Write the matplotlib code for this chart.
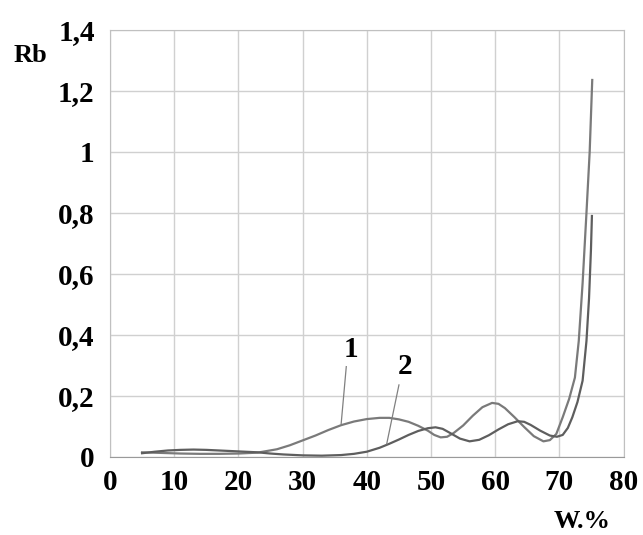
import matplotlib
matplotlib.use('Agg')
from matplotlib import pyplot as plt
from matplotlib.ticker import FixedLocator, FixedFormatter

# Curve 1 (W, Rb)
w1 = [5, 8, 11, 14, 17, 20, 23, 26, 28, 30, 32, 34, 36, 38, 40, 42, 43.5,
      45, 46.5, 48, 49.5, 50.5, 51.5, 52.5, 53.5, 55, 56.5, 58, 59.5, 60.5,
      61.5, 63, 64.5, 66, 67.5, 68.5, 69.5, 70.5, 71.5, 72.4, 73, 73.6,
      74.2, 74.7, 75.1]
rb1 = [0.015, 0.013, 0.011, 0.010, 0.010, 0.011, 0.014, 0.025, 0.038,
       0.054, 0.070, 0.088, 0.104, 0.116, 0.124, 0.128, 0.128, 0.123, 0.115,
       0.102, 0.086, 0.072, 0.064, 0.066, 0.078, 0.103, 0.135, 0.163, 0.177,
       0.174, 0.160, 0.130, 0.098, 0.068, 0.051, 0.055, 0.075, 0.130, 0.190,
       0.260, 0.380, 0.570, 0.800, 1.000, 1.236]

# Curve 2 (W, Rb)
w2 = [5, 7, 9, 11, 13, 15, 17, 19, 21, 23, 25, 27, 30, 33, 36, 38, 40, 42,
      43.5, 45, 46.5, 48, 49.5, 50.7, 51.8, 53, 54.5, 56, 57.5, 59, 60.5, 62,
      63.5, 64.5, 65.5, 67, 68.5, 69.6, 70.5, 71.3, 72, 72.8, 73.6, 74.2,
      74.6, 74.9, 75.05]
rb2 = [0.012, 0.017, 0.021, 0.023, 0.024, 0.023, 0.021, 0.019, 0.017,
       0.015, 0.011, 0.008, 0.005, 0.004, 0.006, 0.010, 0.017, 0.030, 0.043,
       0.057, 0.072, 0.085, 0.094, 0.097, 0.092, 0.078, 0.060, 0.051, 0.056,
       0.071, 0.090, 0.107, 0.117, 0.115, 0.105, 0.086, 0.070, 0.066, 0.072,
       0.095, 0.130, 0.180, 0.250, 0.380, 0.520, 0.680, 0.790]

x_ticks = [0, 10, 20, 30, 40, 50, 60, 70, 80]
y_ticks = [0, 0.2, 0.4, 0.6, 0.8, 1.0, 1.2, 1.4]
y_labels = ['0', '0,2', '0,4', '0,6', '0,8', '1', '1,2', '1,4']

plt.rcParams['font.family'] = 'Liberation Serif'
plt.rcParams['font.weight'] = 'bold'

fig = plt.figure(figsize=(6.43, 5.35), dpi=100)
ax = fig.add_axes([0.171, 0.146, 0.799, 0.798])

ax.plot(w1, rb1, color='#7a7a7a', lw=1.6)
ax.plot(w2, rb2, color='#5e5e5e', lw=1.6)

ax.set_xlim(0, 80)
ax.set_ylim(0, 1.4)
ax.xaxis.set_major_locator(FixedLocator(x_ticks))
ax.yaxis.set_major_locator(FixedLocator(y_ticks))
ax.yaxis.set_major_formatter(FixedFormatter(y_labels))
ax.tick_params(length=0, labelsize=21)
ax.tick_params(axis='x', pad=9)
ax.tick_params(axis='y', pad=11)
for lbl in ax.get_xticklabels() + ax.get_yticklabels():
    lbl.set_fontweight('bold')

ax.grid(True, color='#d0d0d0', lw=1)
ax.set_axisbelow(True)
for s in ax.spines.values():
    s.set_color('#c0c0c0')
ax.spines['bottom'].set_color('#9a9a9a')

# curve labels with leader lines
ax.plot([36.8, 36.0], [0.296, 0.108], color='#808080', lw=0.9)
ax.plot([45.0, 43.1], [0.236, 0.043], color='#808080', lw=0.9)
ax.text(37.6, 0.351, '1', fontsize=21, fontweight='bold', ha='center', va='center')
ax.text(45.9, 0.296, '2', fontsize=21, fontweight='bold', ha='center', va='center')

fig.text(30 / 643, 1 - 56 / 535, 'Rb', fontsize=19, fontweight='bold',
         ha='center', va='center')
fig.text(582 / 643, 1 - 522 / 535, 'W.%', fontsize=19, fontweight='bold',
         ha='center', va='center')

fig.savefig('out.png', dpi=100)
